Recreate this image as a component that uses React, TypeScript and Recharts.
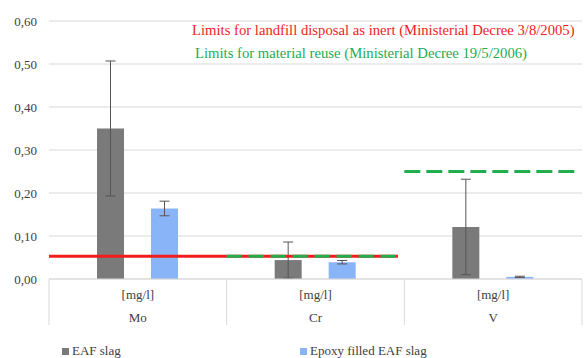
import React from "react"
import {
  BarChart,
  Bar,
  XAxis,
  YAxis,
  CartesianGrid,
  ErrorBar,
  ReferenceLine,
  Legend,
} from "recharts"

// leaching test results per element
const elements = ["Mo", "Cr", "V"]
const units = ["[mg/l]", "[mg/l]", "[mg/l]"]
const eafSlag = [0.35, 0.044, 0.121]
const eafSlagErr = [0.157, 0.042, 0.111]
const epoxySlag = [0.164, 0.039, 0.005]
const epoxySlagErr = [0.017, 0.004, 0.0015]
const yTicks = [0, 0.1, 0.2, 0.3, 0.4, 0.5, 0.6]

// regulatory limits, x given in category units (0 = left edge of Mo, 3 = right edge of V)
const landfillLimit = { y: 0.053, from: 0, to: 1.964 }
const reuseLimitCr = { y: 0.053, from: 1.0, to: 1.964 }
const reuseLimitV = { y: 0.25, from: 2.0, to: 2.96 }

const data = elements.map((el, i) => ({
  element: el,
  pos: i + 0.5,
  unit: units[i],
  eaf: eafSlag[i],
  eafErr: eafSlagErr[i],
  epoxy: epoxySlag[i],
  epoxyErr: epoxySlagErr[i],
}))

const FONT = "'Liberation Serif', 'Times New Roman', serif"
const TEXT = "#404040"
const GRID = "#d9d9d9"
const GRAY = "#7a7a7a"
const BLUE = "#8ab4f8"
const RED = "#f21c1c"
const GREEN = "#22ad4e"

const fmt = (v: number) => v.toFixed(2).replace(".", ",")

function CategoryTick(props: any) {
  const { x, y, payload, index } = props
  const half = payload?.offset || 88.8
  const row = data[index]
  return (
    <g>
      <line x1={x - half} y1={y} x2={x - half} y2={y + 46} stroke={GRID} />
      {index === data.length - 1 && (
        <line x1={x + half} y1={y} x2={x + half} y2={y + 46} stroke={GRID} />
      )}
      <text x={x} y={y + 20} textAnchor="middle" fontFamily={FONT} fontSize={13} fill={TEXT}>
        {row ? row.unit : ""}
      </text>
      <text x={x} y={y + 43} textAnchor="middle" fontFamily={FONT} fontSize={13} fill={TEXT}>
        {payload.value}
      </text>
    </g>
  )
}

function LegendBox() {
  const item = (left: number, color: string, label: string) => (
    <div
      style={{
        position: "absolute",
        left,
        top: 6,
        display: "flex",
        alignItems: "center",
        fontFamily: FONT,
        fontSize: 13,
        color: TEXT,
        lineHeight: "14px",
      }}
    >
      <span style={{ width: 7, height: 7, background: color, marginRight: 3 }} />
      {label}
    </div>
  )
  return (
    <div style={{ position: "relative", width: 585, height: 20 }}>
      {item(62, GRAY, "EAF slag")}
      {item(300, BLUE, "Epoxy filled EAF slag")}
    </div>
  )
}

export default function App() {
  return (
    <div style={{ position: "absolute", left: 0, top: 0, width: 585, height: 358, background: "#fff" }}>
      <BarChart
        width={585}
        height={358}
        data={data}
        margin={{ top: 21, right: 3, left: 0, bottom: 0 }}
        barSize={27}
        barGap={27}
      >
        <CartesianGrid vertical={false} stroke={GRID} />
        <XAxis
          dataKey="element"
          height={59}
          tickLine={false}
          tickSize={0}
          tickMargin={0}
          axisLine={{ stroke: GRID }}
          tick={<CategoryTick />}
          interval={0}
        />
        <XAxis
          xAxisId="lim"
          dataKey="pos"
          type="number"
          domain={[0, 3]}
          allowDataOverflow
          hide
        />
        <YAxis
          width={49}
          domain={[0, 0.6]}
          ticks={yTicks}
          tickFormatter={fmt}
          axisLine={false}
          tickLine={false}
          tickSize={0}
          tickMargin={12}
          tick={{ fontFamily: FONT, fontSize: 13, fill: TEXT }}
        />
        <Bar dataKey="eaf" name="EAF slag" fill={GRAY} isAnimationActive={false}>
          <ErrorBar dataKey="eafErr" width={5} stroke="#555" strokeWidth={1} />
        </Bar>
        <Bar dataKey="epoxy" name="Epoxy filled EAF slag" fill={BLUE} isAnimationActive={false}>
          <ErrorBar dataKey="epoxyErr" width={5} stroke="#555" strokeWidth={1} />
        </Bar>
        <ReferenceLine
          xAxisId="lim"
          segment={[
            { x: landfillLimit.from, y: landfillLimit.y },
            { x: landfillLimit.to, y: landfillLimit.y },
          ]}
          stroke={RED}
          strokeWidth={3}
        />
        <ReferenceLine
          xAxisId="lim"
          segment={[
            { x: reuseLimitCr.from, y: reuseLimitCr.y },
            { x: reuseLimitCr.to, y: reuseLimitCr.y },
          ]}
          stroke={GREEN}
          strokeWidth={3}
          strokeDasharray="15 7"
        />
        <ReferenceLine
          xAxisId="lim"
          segment={[
            { x: reuseLimitV.from, y: reuseLimitV.y },
            { x: reuseLimitV.to, y: reuseLimitV.y },
          ]}
          stroke={GREEN}
          strokeWidth={3}
          strokeDasharray="16 6"
        />
        <Legend verticalAlign="bottom" content={<LegendBox />} />
      </BarChart>
      <svg
        width={585}
        height={70}
        style={{ position: "absolute", left: 0, top: 0, pointerEvents: "none" }}
      >
        <text x={192} y={35} fontFamily={FONT} fontSize={14.7} fill={RED}>
          Limits for landfill disposal as inert (Ministerial Decree 3/8/2005)
        </text>
        <text x={195} y={58} fontFamily={FONT} fontSize={14.7} fill={GREEN}>
          Limits for material reuse (Ministerial Decree 19/5/2006)
        </text>
      </svg>
    </div>
  )
}
